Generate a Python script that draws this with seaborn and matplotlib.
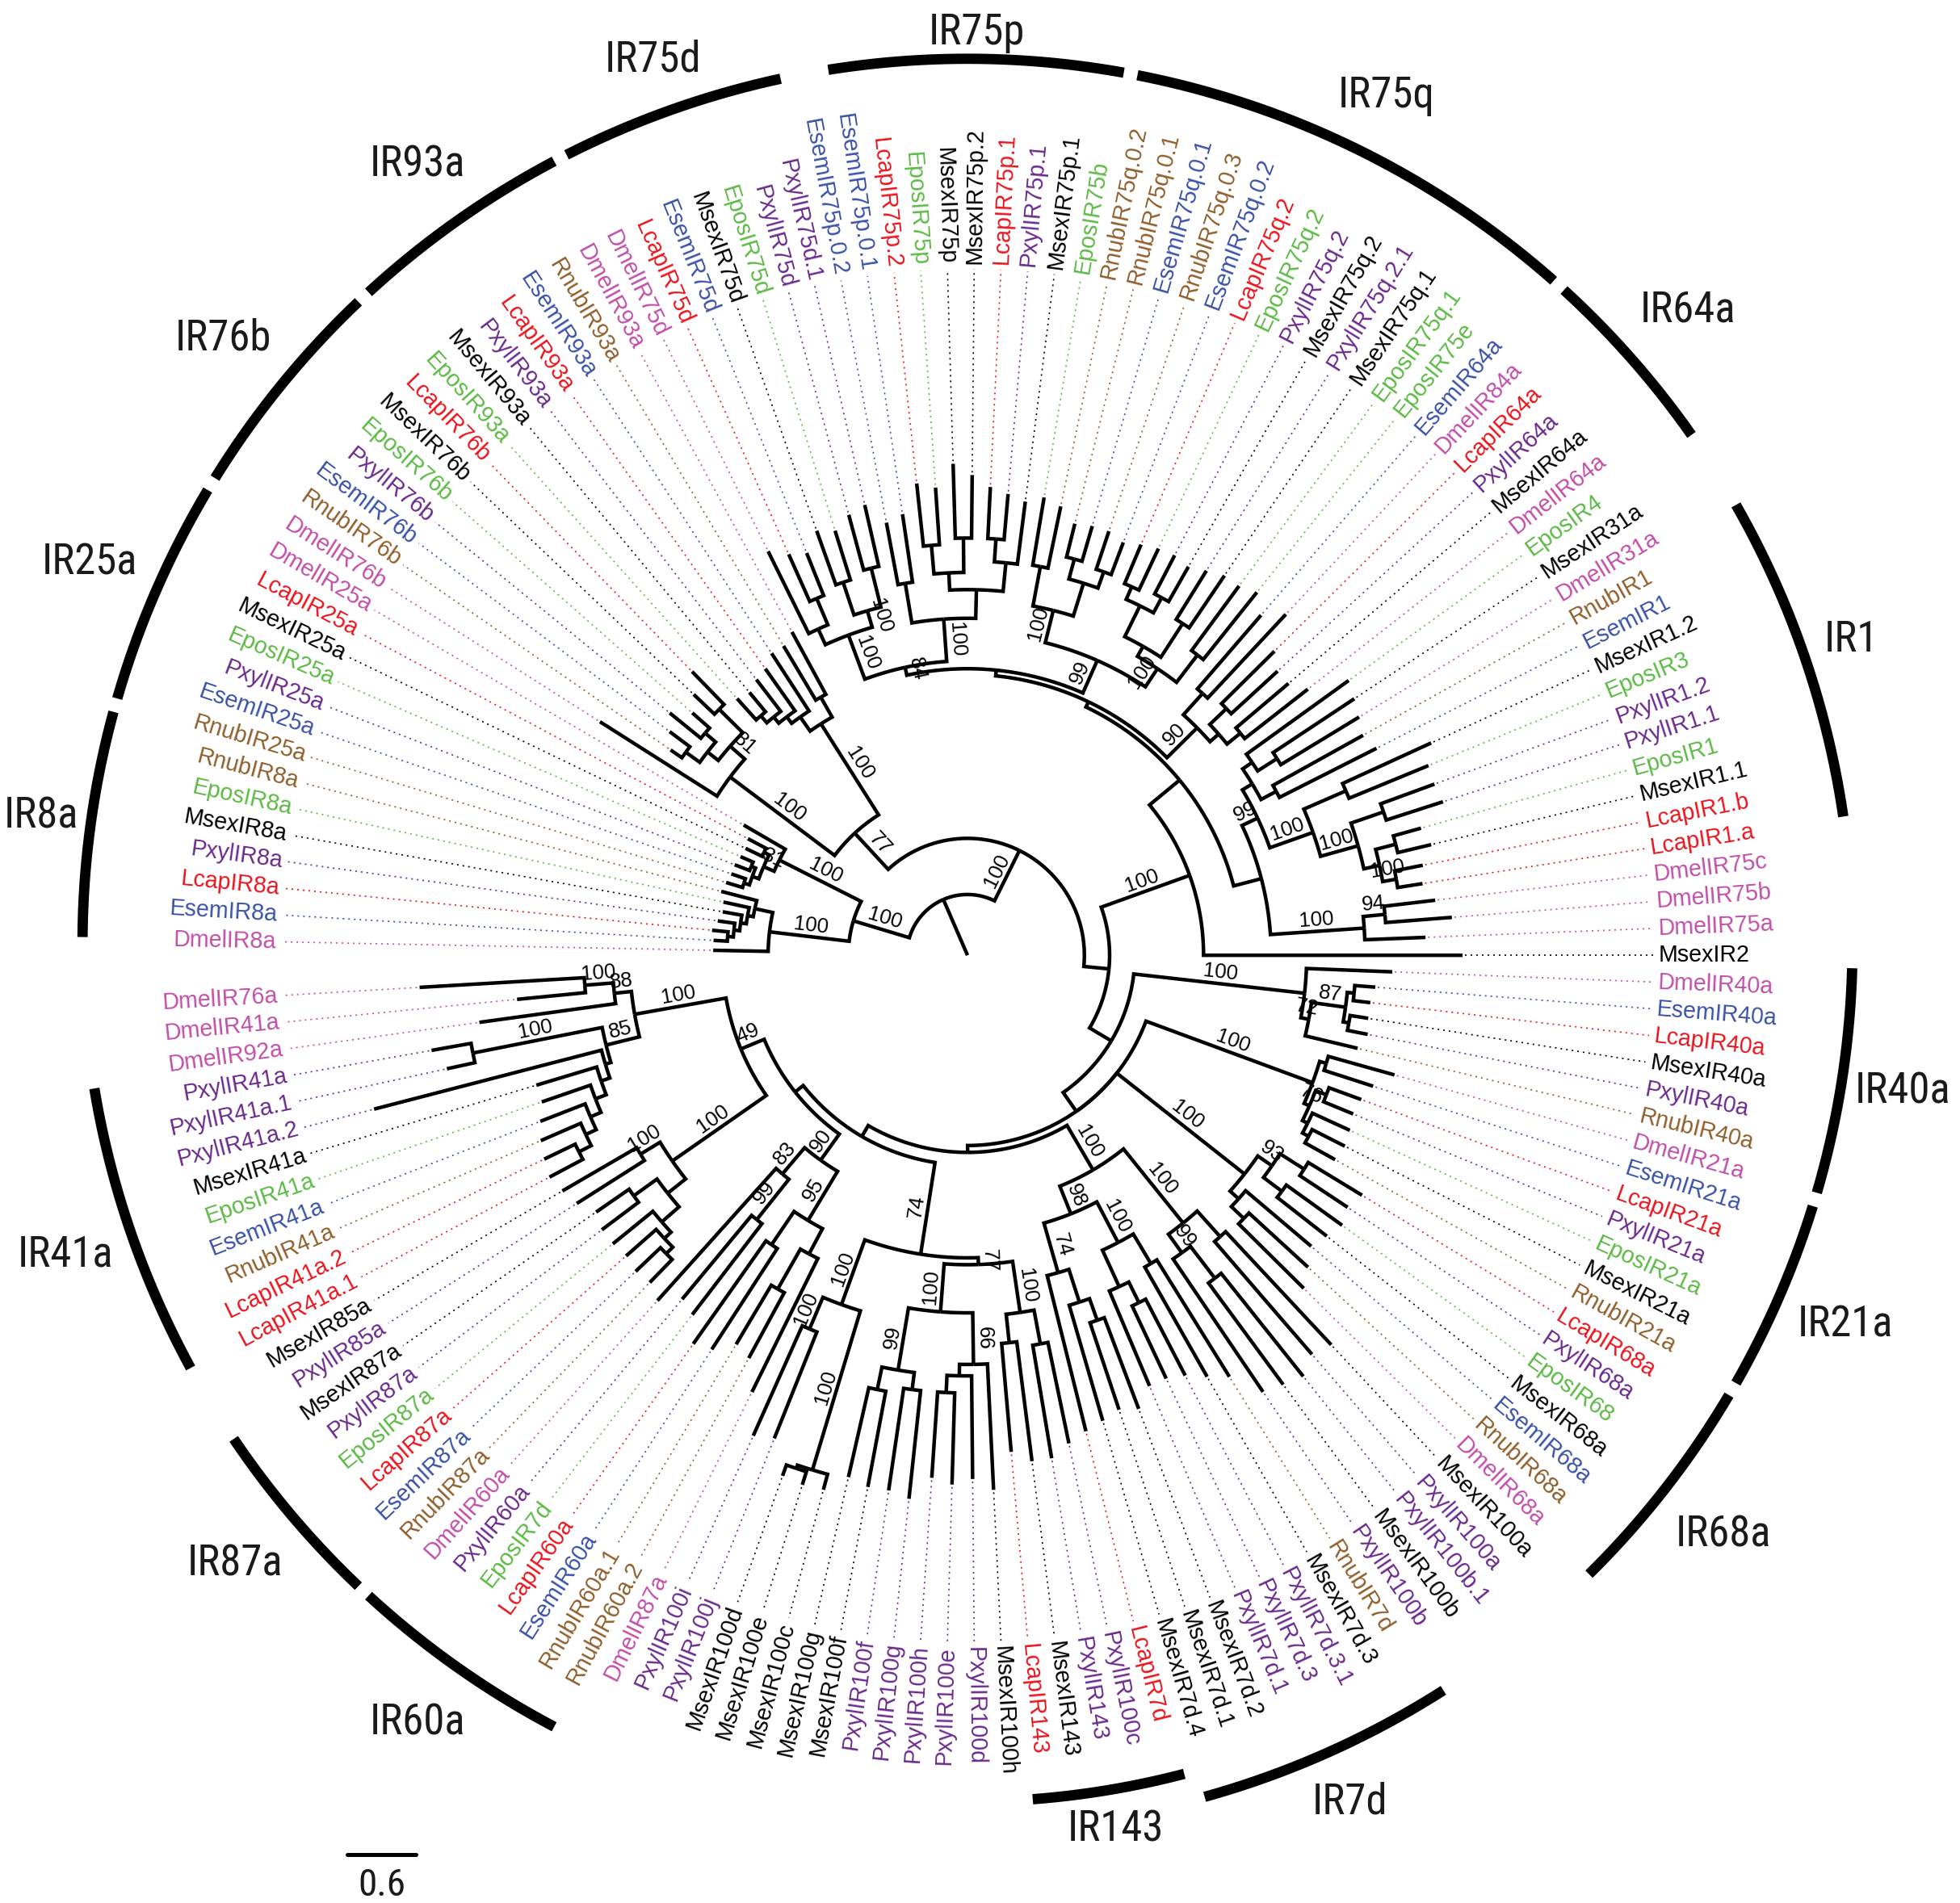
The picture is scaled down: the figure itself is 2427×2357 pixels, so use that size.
import re
import numpy as np
import matplotlib
matplotlib.use("Agg")
import matplotlib.pyplot as plt
from matplotlib import font_manager
import seaborn as sns

# ---------------------------------------------------------------------------
# data: species colours, clade subtrees (Newick, branch lengths in
# substitutions/site, internal labels = bootstrap support) and gene groups
# ---------------------------------------------------------------------------
SPECIES_COLORS = {
    "Dmel": "#C150A8",
    "Esem": "#3A52A6",
    "Lcap": "#E8161E",
    "Msex": "#000000",
    "Pxyl": "#6A2A8C",
    "Epos": "#5DBA46",
    "Rnub": "#8F5F2C",
}

IR41A = ("(((DmelIR76a:1.44,DmelIR41a:0.60)100:0.25,DmelIR92a:1.20)88:0.15,"
         "((PxylIR41a:0.35,PxylIR41a.1:0.25)100:1.15,(PxylIR41a.2:2.05,(MsexIR41a:0.55,"
         "(EposIR41a:0.45,(EsemIR41a:0.42,(RnubIR41a:0.38,(LcapIR41a.2:0.30,"
         "LcapIR41a.1:0.33):0.12):0.10):0.10):0.10):0.08):0.05)85:0.30)")
IR87A = ("((MsexIR85a:0.75,PxylIR85a:0.70)100:0.20,((MsexIR87a:0.35,PxylIR87a:0.40):0.25,"
         "(EposIR87a:0.45,(LcapIR87a:0.35,(EsemIR87a:0.30,RnubIR87a:0.28):0.08):0.08):0.20):0.20)")
IR60A = ("((DmelIR60a:1.55,(PxylIR60a:0.95,EposIR7d:1.00)99:0.45)83:0.30,"
         "((LcapIR60a:1.10,EsemIR60a:1.05):0.35,((RnubIR60a.1:0.60,RnubIR60a.2:0.65):0.40,"
         "DmelIR87a:1.30):0.25)95:0.50)")
IR100IJ = ("((PxylIR100i:1.05,PxylIR100j:1.00)100:0.30,((MsexIR100d:0.10,MsexIR100e:0.12):0.03,"
           "MsexIR100c:0.14)100:1.45)")
IR100FH = ("(((MsexIR100g:0.80,MsexIR100f:0.85):0.20,(PxylIR100f:0.90,PxylIR100g:0.95):0.15)99:0.55,"
           "(((PxylIR100h:0.75,PxylIR100e:0.80):0.15,PxylIR100d:0.90):0.10,MsexIR100h:1.10)66:0.45)")
IR143 = "((LcapIR143:0.95,MsexIR143:1.05):0.25,(PxylIR143:1.00,PxylIR100c:0.90):0.30)"
IR7D = ("((LcapIR7d:1.40,(MsexIR7d.4:1.05,(MsexIR7d.1:0.80,MsexIR7d.2:0.85):0.20):0.30)74:0.45,"
        "((PxylIR7d.1:0.90,(PxylIR7d.3:0.70,PxylIR7d.3.1:0.75):0.20):0.35,"
        "(MsexIR7d.3:1.10,RnubIR7d:1.20):0.30)100:0.40)")
IR100AB = ("((PxylIR100b:1.40,(MsexIR100b:1.10,PxylIR100b.1:1.15):0.35)99:0.20,"
           "(PxylIR100a:1.30,MsexIR100a:1.35):0.30)")
IR68A = ("(((DmelIR68a:0.80,RnubIR68a:0.70):0.15,EsemIR68a:0.75):0.10,"
         "((MsexIR68a:0.55,EposIR68:0.60):0.20,(PxylIR68a:0.50,LcapIR68a:0.55):0.25)93:0.15)")
IR21A = ("((((RnubIR21a:0.30,MsexIR21a:0.32):0.06,EposIR21a:0.36):0.05,"
         "(PxylIR21a:0.28,LcapIR21a:0.30):0.10)76:0.05,(EsemIR21a:0.45,DmelIR21a:0.60):0.06)")
IR40A = ("((RnubIR40a:0.47,((PxylIR40a:0.18,MsexIR40a:0.16):0.05,(LcapIR40a:0.15,"
         "EsemIR40a:0.18):0.06)87:0.30)72:0.07,DmelIR40a:0.75)")
D75 = "(DmelIR75a:0.53,(DmelIR75b:0.58,DmelIR75c:0.45)94:0.19)"
IR1 = ("((((LcapIR1.a:0.22,LcapIR1.b:0.25)100:0.12,(MsexIR1.1:0.30,EposIR1:0.25):0.18):0.14,"
       "(PxylIR1.1:0.52,PxylIR1.2:0.50):0.30)100:0.34,(EposIR3:0.75,MsexIR1.2:0.85):0.40)")
IR31 = ("((EsemIR1:0.95,RnubIR1:0.90):0.15,((DmelIR31a:0.80,MsexIR31a:0.85):0.20,"
        "EposIR4:1.10):0.10)")
IR64A = ("(((DmelIR64a:0.70,MsexIR64a:0.60):0.15,(PxylIR64a:0.55,LcapIR64a:0.65):0.20):0.10,"
         "(DmelIR84a:1.00,EsemIR64a:0.85):0.25)")
IR75Q = ("(((EposIR75e:0.75,EposIR75q.1:0.70):0.30,((MsexIR75q.1:0.55,PxylIR75q.2.1:0.50):0.35,"
         "((MsexIR75q.2:0.35,PxylIR75q.2:0.38):0.15,(EposIR75q.2:0.40,LcapIR75q.2:0.37):0.12):0.30)"
         ":0.10)100:0.19,(((EsemIR75q.0.2:0.30,RnubIR75q.0.3:0.35):0.15,(EsemIR75q.0.1:0.32,"
         "RnubIR75q.0.1:0.30):0.18):0.30,(RnubIR75q.0.2:0.55,EposIR75b:0.60):0.35)100:0.29)")
IR75P = ("(((MsexIR75p.1:0.55,(PxylIR75p.1:0.40,LcapIR75p.1:0.45):0.20):0.25,"
         "((MsexIR75p.2:0.55,MsexIR75p:0.65):0.30,(EposIR75p:0.50,LcapIR75p.2:0.55):0.25):0.15):0.25,"
         "(EsemIR75p.0.1:0.60,EsemIR75p.0.2:0.55):0.35)")
IR75D = ("(((PxylIR75d.1:0.55,PxylIR75d:0.50):0.35,(EposIR75d:0.45,MsexIR75d:0.50):0.30)100:0.15,"
         "((EsemIR75d:0.40,LcapIR75d:0.45):0.25,DmelIR75d:0.80):0.15)")
IR93A = ("((DmelIR93a:0.62,RnubIR93a:0.55):0.20,(EsemIR93a:0.60,(LcapIR93a:0.45,"
         "(PxylIR93a:0.35,(MsexIR93a:0.22,EposIR93a:0.25):0.08):0.07):0.07):0.15)")
IR76B = ("(((LcapIR76b:0.40,MsexIR76b:0.25):0.29,((EposIR76b:0.20,PxylIR76b:0.35):0.12,"
         "(EsemIR76b:0.22,RnubIR76b:0.12):0.15):0.12)81:0.17,DmelIR76b:1.21)")
IR25A = ("(DmelIR25a:0.42,((LcapIR25a:0.18,MsexIR25a:0.16):0.05,((EposIR25a:0.12,"
         "PxylIR25a:0.14):0.04,(EsemIR25a:0.13,RnubIR25a:0.15):0.05):0.06)31:0.10)")
IR8A = ("((RnubIR8a:0.32,(EposIR8a:0.23,(MsexIR8a:0.17,(PxylIR8a:0.15,(LcapIR8a:0.14,"
        "EsemIR8a:0.12):0.05):0.05):0.05):0.05):0.16,DmelIR8a:0.48)")

CLADES = {
    "IR41a": IR41A, "IR87a": IR87A, "IR60a": IR60A, "IR100ij": IR100IJ,
    "IR100fh": IR100FH, "IR143": IR143, "IR7d": IR7D, "IR100ab": IR100AB,
    "IR68a": IR68A, "IR21a": IR21A, "IR40a": IR40A, "D75": D75, "IR1": IR1,
    "IR31": IR31, "IR64a": IR64A, "IR75q": IR75Q, "IR75p": IR75P, "IR75d": IR75D,
    "IR93a": IR93A, "IR76b": IR76B, "IR25a": IR25A, "IR8a": IR8A,
}

LOWER = ("(((((({IR41a}100:0.81,{IR87a}100:1.00)49:0.22,{IR60a}90:0.28):0.09,"
         "({IR100ij}100:0.60,({IR100fh}100:0.42,{IR143}100:0.45)77:0.06)74:0.81):0.11,"
         "({IR7d}98:0.26,{IR100ab}100:0.83)100:0.45):0.06,"
         "{IR68a}100:1.42,{IR21a}100:1.55):0.20,{IR40a}100:1.50)")
UPPER = ("(MsexIR2:2.26,(({D75}100:0.82,({IR1}100:0.40,{IR31}:0.10)99:0.15):0.25,"
         "({IR64a}90:0.37,({IR75q}99:0.31,({IR75p}100:0.37,{IR75d}100:0.41)84:0.07):0.05)"
         ":0.05):0.34)")
ROOT = ("(((({lower}:0.22,{upper}100:0.82):0.22,({IR93a}100:0.94,{IR76b}100:1.14)77:0.43)"
        "100:0.49,({IR25a}100:0.80,{IR8a}100:0.70)100:0.51):0.53);")

# gene groups: name, first leaf, last leaf (arc around these tips)
GROUPS = [
    ("IR1", "LcapIR1.a", "RnubIR1"),
    ("IR64a", "EposIR4", "DmelIR84a"),
    ("IR75q", "EsemIR64a", "RnubIR75q.0.2"),
    ("IR75p", "EposIR75b", "EsemIR75p.0.1"),
    ("IR75d", "PxylIR75d.1", "DmelIR75d"),
    ("IR93a", "DmelIR93a", "EposIR93a"),
    ("IR76b", "LcapIR76b", "DmelIR76b"),
    ("IR25a", "DmelIR25a", "RnubIR25a"),
    ("IR8a", "RnubIR8a", "DmelIR8a"),
    ("IR41a", "PxylIR41a", "LcapIR41a.1"),
    ("IR87a", "MsexIR87a", "RnubIR87a"),
    ("IR60a", "DmelIR60a", "RnubIR60a.2"),
    ("IR143", "LcapIR143", "LcapIR7d"),
    ("IR7d", "MsexIR7d.4", "RnubIR7d"),
    ("IR68a", "DmelIR68a", "LcapIR68a"),
    ("IR21a", "RnubIR21a", "EsemIR21a"),
    ("IR40a", "DmelIR21a", "DmelIR40a"),
]
SCALE_BAR = 0.6

# ---------------------------------------------------------------------------
# layout settings
# ---------------------------------------------------------------------------
W, H = 1568.0, 1522.0
TREE_C = (774.0, 758.0)
ARC_C = (774.0, 767.0)
PX_PER_SUB = 55.0 / 0.6
R_LABEL = 553.0
R_ARC = 708.0
ARC_R_OVERRIDE = {"IR143": 686.0}
TREE_LW = 1.6

sns.set_theme(style="white")
plt.rcParams["font.family"] = ["Liberation Sans", "DejaVu Sans"]


def parse_newick(text):
    text = re.sub(r"\s+", "", text).rstrip(";")
    pos = 0

    def node():
        nonlocal pos
        n = {"children": [], "name": "", "support": "", "length": 0.0}
        if text[pos] == "(":
            pos += 1
            n["children"].append(node())
            while text[pos] == ",":
                pos += 1
                n["children"].append(node())
            pos += 1
        lab = re.match(r"[^:,()]*", text[pos:]).group(0)
        pos += len(lab)
        if n["children"]:
            n["support"] = lab
        else:
            n["name"] = lab
        if pos < len(text) and text[pos] == ":":
            pos += 1
            num = re.match(r"[-+0-9.eE]+", text[pos:]).group(0)
            n["length"] = float(num)
            pos += len(num)
        return n

    return node()


tree_text = ROOT.replace("{lower}", LOWER).replace("{upper}", UPPER).format(**CLADES)
root = parse_newick(tree_text)

leaves = []


def walk(n, depth=0.0):
    n["depth"] = depth
    if not n["children"]:
        leaves.append(n)
    for c in n["children"]:
        walk(c, depth + c["length"])


walk(root)
names = [lf["name"] for lf in leaves]
assert len(names) == 160, len(names)

step = 360.0 / (len(leaves) + 1)
zero = names.index("MsexIR2")
for k, lf in enumerate(leaves):
    lf["angle"] = (k - zero) * step


def set_angle(n):
    if n["children"]:
        for c in n["children"]:
            set_angle(c)
        n["angle"] = 0.5 * (n["children"][0]["angle"] + n["children"][-1]["angle"])


set_angle(root)


def polar(r, a, c=TREE_C):
    t = np.deg2rad(a)
    return c[0] + r * np.cos(t), c[1] + r * np.sin(t)


def text_frame(a):
    a = (a + 180.0) % 360.0 - 180.0
    t = np.deg2rad(a)
    if -90.0 < a <= 90.0:
        return a, np.array([-np.sin(t), np.cos(t)]), "left"
    return a - 180.0, np.array([np.sin(t), -np.cos(t)]), "right"


def species_color(name):
    return SPECIES_COLORS.get(name[:4], "black")


fig = plt.figure(figsize=(2427 / 200, 2357 / 200), dpi=200)
ax = fig.add_axes([0, 0, 1, 1])
ax.set_xlim(0, W)
ax.set_ylim(0, H)
ax.axis("off")


def draw(n, parent=None):
    if parent is not None:
        rp = parent["depth"] * PX_PER_SUB
        rc = n["depth"] * PX_PER_SUB
        a0, a1 = parent["angle"], n["angle"]
        npts = max(2, int(abs(a1 - a0) / 0.4) + 2)
        xs, ys = polar(rp, np.linspace(a0, a1, npts))
        xe, ye = polar(rc, a1)
        ax.plot(np.append(xs, xe), np.append(ys, ye), color="black", lw=TREE_LW,
                solid_joinstyle="miter", solid_capstyle="butt", zorder=3)
        if n["support"]:
            rot, up, _ = text_frame(a1)
            mx, my = polar(0.5 * (rp + rc), a1)
            ax.text(mx + 9 * up[0], my + 9 * up[1], n["support"], rotation=rot,
                    rotation_mode="anchor", ha="center", va="center", fontsize=9.3,
                    color="black", zorder=4)
        if not n["children"]:
            col = species_color(n["name"])
            x0, y0 = polar(rc + 2, a1)
            x1, y1 = polar(R_LABEL - 4, a1)
            ax.plot([x0, x1], [y0, y1], color=col, lw=0.6, linestyle=(0, (1.2, 3.0)),
                    zorder=2)
            rot, _, ha = text_frame(a1)
            tx, ty = polar(R_LABEL, a1)
            ax.text(tx, ty, n["name"], rotation=rot, rotation_mode="anchor", ha=ha,
                    va="center", fontsize=10.3, color=col, zorder=4)
    for c in n["children"]:
        draw(c, n)


draw(root)


def pick_group_font():
    entries = font_manager.fontManager.ttflist
    fams = {f.name for f in entries}
    for fam in ("Liberation Sans Narrow", "Roboto Condensed", "Open Sans Condensed"):
        if fam in fams:
            return {"family": fam}, 19
    if any(f.name == "DejaVu Sans" and str(f.stretch) == "condensed" for f in entries):
        return {"family": "DejaVu Sans", "stretch": "condensed"}, 18
    return {"family": "Liberation Sans"}, 16


gfont, gsize = pick_group_font()
angle_of = {lf["name"]: lf["angle"] for lf in leaves}
pad = 0.5 * step - 0.45
renderer = fig.canvas.get_renderer()
for gname, first, last in GROUPS:
    a0 = angle_of[first] - pad
    a1 = angle_of[last] + pad
    r = ARC_R_OVERRIDE.get(gname, R_ARC)
    xs, ys = polar(r, np.linspace(a0, a1, 200), ARC_C)
    ax.plot(xs, ys, color="black", lw=4.6, solid_capstyle="butt", zorder=3)
    am = 0.5 * (a0 + a1)
    t = ax.text(0, 0, gname, ha="center", va="center", fontsize=gsize, color="#1a1a1a",
                **gfont)
    bb = t.get_window_extent(renderer)
    w = bb.width * W / 2427.0
    h = bb.height * H / 2357.0
    tr = np.deg2rad(am)
    margin = 4.0 + 16.0 * abs(np.sin(2 * tr))
    d = margin + abs(np.cos(tr)) * w / 2 + abs(np.sin(tr)) * h / 2
    t.set_position(polar(r + d, am, ARC_C))

# scale bar
bar_len = SCALE_BAR * PX_PER_SUB
sx, sy = 278.0, 39.0
sns.lineplot(x=[sx, sx + bar_len], y=[sy, sy], color="black", lw=1.8, ax=ax)
ax.text(sx + bar_len / 2, sy - 25, f"{SCALE_BAR:g}", ha="center", va="center",
        fontsize=17, color="#1a1a1a", **gfont)

ax.set_xlim(0, W)
ax.set_ylim(0, H)
fig.savefig("out.png", dpi=200, facecolor="white")
